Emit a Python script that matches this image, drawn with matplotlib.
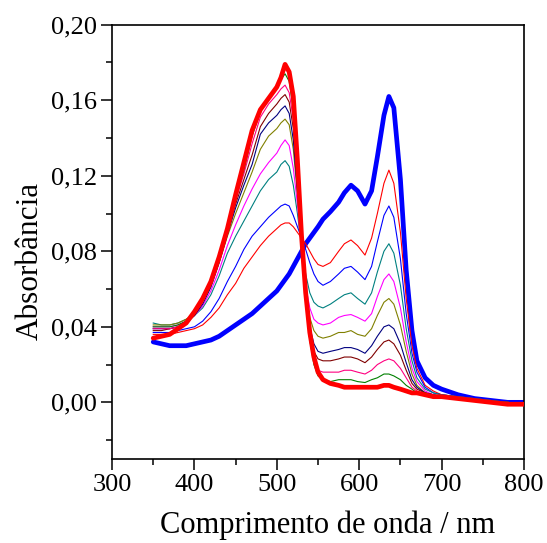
import matplotlib
matplotlib.use("Agg")
import matplotlib.pyplot as plt
from matplotlib.ticker import MultipleLocator, FuncFormatter

wavelength = [350, 360, 370, 380, 390, 400, 410, 420, 430, 440,
              450, 460, 470, 480, 490, 500, 505, 510, 515, 520,
              525, 530, 535, 540, 545, 550, 556, 565, 575, 582,
              590, 598, 607, 615, 622, 630, 636, 642, 650, 657,
              664, 670, 680, 690, 700, 720, 740, 760, 780, 800]

initial_blue = [0.032, 0.031, 0.030, 0.030, 0.030, 0.031, 0.032, 0.033, 0.035, 0.038,
                0.041, 0.044, 0.047, 0.051, 0.055, 0.059, 0.062, 0.065, 0.068, 0.072,
                0.076, 0.080, 0.084, 0.087, 0.090, 0.093, 0.097, 0.101, 0.106, 0.111,
                0.115, 0.112, 0.105, 0.112, 0.130, 0.152, 0.162, 0.156, 0.118, 0.070,
                0.038, 0.022, 0.013, 0.009, 0.007, 0.004, 0.002, 0.001, 0.000, 0.000]

final_red = [0.034, 0.035, 0.036, 0.039, 0.042, 0.048, 0.055, 0.064, 0.077, 0.092,
             0.110, 0.127, 0.144, 0.155, 0.161, 0.167, 0.172, 0.179, 0.175, 0.162,
             0.128, 0.088, 0.058, 0.037, 0.024, 0.016, 0.012, 0.010, 0.009, 0.008,
             0.008, 0.008, 0.008, 0.008, 0.008, 0.009, 0.009, 0.008, 0.007, 0.006,
             0.005, 0.005, 0.004, 0.003, 0.003, 0.002, 0.001, 0.000, -0.001, -0.001]

s1_red = [0.036, 0.036, 0.036, 0.037, 0.038, 0.039, 0.041, 0.045, 0.050, 0.057,
          0.063, 0.071, 0.077, 0.083, 0.088, 0.092, 0.094, 0.095, 0.095, 0.093,
          0.090, 0.087, 0.084, 0.080, 0.076, 0.073, 0.072, 0.074, 0.080, 0.084,
          0.086, 0.083, 0.078, 0.087, 0.100, 0.116, 0.123, 0.116, 0.090, 0.055,
          0.030, 0.018, 0.009, 0.006, 0.004, 0.003, 0.002, 0.001, 0.000, -0.001]

s2_blue = [0.037, 0.037, 0.037, 0.038, 0.039, 0.040, 0.043, 0.048, 0.055, 0.064,
           0.072, 0.081, 0.088, 0.093, 0.098, 0.102, 0.104, 0.105, 0.104, 0.099,
           0.093, 0.087, 0.081, 0.074, 0.068, 0.064, 0.062, 0.064, 0.068, 0.071,
           0.072, 0.069, 0.065, 0.072, 0.085, 0.099, 0.104, 0.098, 0.076, 0.047,
           0.026, 0.016, 0.008, 0.005, 0.004, 0.003, 0.002, 0.001, 0.000, -0.001]

s3_teal = [0.042, 0.041, 0.041, 0.042, 0.044, 0.046, 0.050, 0.057, 0.067, 0.079,
           0.088, 0.096, 0.104, 0.112, 0.118, 0.122, 0.126, 0.128, 0.125, 0.115,
           0.100, 0.083, 0.068, 0.058, 0.053, 0.051, 0.050, 0.052, 0.055, 0.057,
           0.058, 0.055, 0.052, 0.058, 0.069, 0.080, 0.084, 0.079, 0.062, 0.039,
           0.022, 0.013, 0.007, 0.005, 0.004, 0.003, 0.002, 0.001, 0.000, -0.001]

s4_magenta = [0.040, 0.040, 0.040, 0.041, 0.043, 0.046, 0.051, 0.059, 0.070, 0.083,
              0.094, 0.104, 0.113, 0.121, 0.127, 0.132, 0.136, 0.139, 0.136, 0.124,
              0.105, 0.082, 0.062, 0.050, 0.044, 0.042, 0.041, 0.042, 0.045, 0.046,
              0.0465, 0.045, 0.043, 0.047, 0.056, 0.065, 0.068, 0.064, 0.050, 0.032,
              0.018, 0.011, 0.006, 0.004, 0.003, 0.002, 0.001, 0.000, 0.000, -0.001]

s5_olive = [0.041, 0.041, 0.041, 0.042, 0.044, 0.047, 0.053, 0.062, 0.074, 0.088,
            0.100, 0.111, 0.122, 0.134, 0.141, 0.145, 0.148, 0.150, 0.147, 0.134,
            0.110, 0.083, 0.060, 0.045, 0.038, 0.035, 0.034, 0.035, 0.037, 0.037,
            0.038, 0.036, 0.035, 0.039, 0.046, 0.053, 0.055, 0.052, 0.041, 0.027,
            0.015, 0.009, 0.005, 0.004, 0.003, 0.002, 0.001, 0.000, 0.000, -0.001]

s6_navy = [0.039, 0.039, 0.039, 0.040, 0.042, 0.046, 0.052, 0.061, 0.074, 0.089,
           0.103, 0.115, 0.126, 0.142, 0.148, 0.152, 0.155, 0.157, 0.153, 0.139,
           0.112, 0.082, 0.057, 0.040, 0.031, 0.027, 0.026, 0.027, 0.028, 0.029,
           0.029, 0.028, 0.026, 0.030, 0.035, 0.040, 0.041, 0.039, 0.031, 0.021,
           0.012, 0.008, 0.005, 0.004, 0.003, 0.002, 0.001, 0.000, 0.000, -0.001]

s7_maroon = [0.038, 0.038, 0.039, 0.040, 0.042, 0.046, 0.053, 0.062, 0.075, 0.090,
             0.105, 0.118, 0.131, 0.146, 0.153, 0.158, 0.161, 0.163, 0.159, 0.145,
             0.115, 0.082, 0.055, 0.036, 0.027, 0.023, 0.022, 0.022, 0.023, 0.024,
             0.024, 0.023, 0.021, 0.024, 0.028, 0.032, 0.033, 0.031, 0.025, 0.017,
             0.010, 0.007, 0.005, 0.004, 0.003, 0.002, 0.001, 0.000, 0.000, -0.001]

s8_pink = [0.039, 0.039, 0.039, 0.040, 0.043, 0.047, 0.053, 0.063, 0.076, 0.091,
           0.107, 0.121, 0.137, 0.151, 0.158, 0.163, 0.166, 0.168, 0.164, 0.150,
           0.118, 0.083, 0.054, 0.033, 0.022, 0.017, 0.016, 0.016, 0.016, 0.017,
           0.017, 0.016, 0.015, 0.017, 0.020, 0.022, 0.023, 0.022, 0.018, 0.013,
           0.008, 0.006, 0.004, 0.004, 0.003, 0.002, 0.001, 0.000, 0.000, -0.001]

s9_green = [0.040, 0.040, 0.040, 0.041, 0.043, 0.047, 0.054, 0.063, 0.076, 0.091,
            0.108, 0.123, 0.141, 0.154, 0.161, 0.167, 0.171, 0.174, 0.170, 0.155,
            0.121, 0.085, 0.055, 0.033, 0.020, 0.014, 0.012, 0.011, 0.012, 0.012,
            0.012, 0.011, 0.0105, 0.012, 0.013, 0.015, 0.015, 0.014, 0.012, 0.009,
            0.007, 0.005, 0.004, 0.003, 0.003, 0.002, 0.001, 0.000, 0.000, -0.001]

thin_series = [s1_red, s2_blue, s3_teal, s4_magenta, s5_olive,
               s6_navy, s7_maroon, s8_pink, s9_green]
thin_colors = ["#FF0000", "#0000FF", "#008080", "#FF00FF", "#808000",
               "#000080", "#800000", "#FF0080", "#008000"]

x_ticks = [300, 400, 500, 600, 700, 800]
y_ticks = [0.00, 0.04, 0.08, 0.12, 0.16, 0.20]

plt.rcParams['font.family'] = ['Liberation Serif', 'DejaVu Serif']

fig = plt.figure(figsize=(5.47, 5.43), dpi=100)
ax = fig.add_axes([0.2048, 0.1547, 0.958 - 0.2048, 0.9545 - 0.1547])

ax.plot(wavelength, initial_blue, color="#0000FF", lw=3.4, solid_joinstyle="round",
        solid_capstyle="round", zorder=2)
for s, c in zip(thin_series, thin_colors):
    ax.plot(wavelength, s, color=c, lw=0.8, solid_joinstyle="round", zorder=3)
ax.plot(wavelength, final_red, color="#FF0000", lw=3.4, solid_joinstyle="round",
        solid_capstyle="round", zorder=4)

ax.set_xlim(300, 800)
ax.set_ylim(-0.03, 0.20)
ax.set_xticks(x_ticks)
ax.set_yticks(y_ticks)
ax.xaxis.set_minor_locator(MultipleLocator(50))
ax.yaxis.set_minor_locator(MultipleLocator(0.02))
ax.yaxis.set_major_formatter(FuncFormatter(lambda v, p: f"{v:.2f}".replace(".", ",")))
ax.tick_params(which="major", direction="out", length=8, width=1.1, labelsize=19, pad=3)
ax.tick_params(which="minor", direction="out", length=4.5, width=1.1)
ax.tick_params(top=False, right=False)
for sp in ax.spines.values():
    sp.set_linewidth(1.2)

ax.set_xlabel("Comprimento de onda / nm", fontsize=22, labelpad=10)
ax.set_ylabel("Absorbância", fontsize=22.5, labelpad=4.5)
ax.xaxis.label.set_x(0.524)
ax.yaxis.label.set_y(0.455)

fig.savefig("out.png", dpi=100)
